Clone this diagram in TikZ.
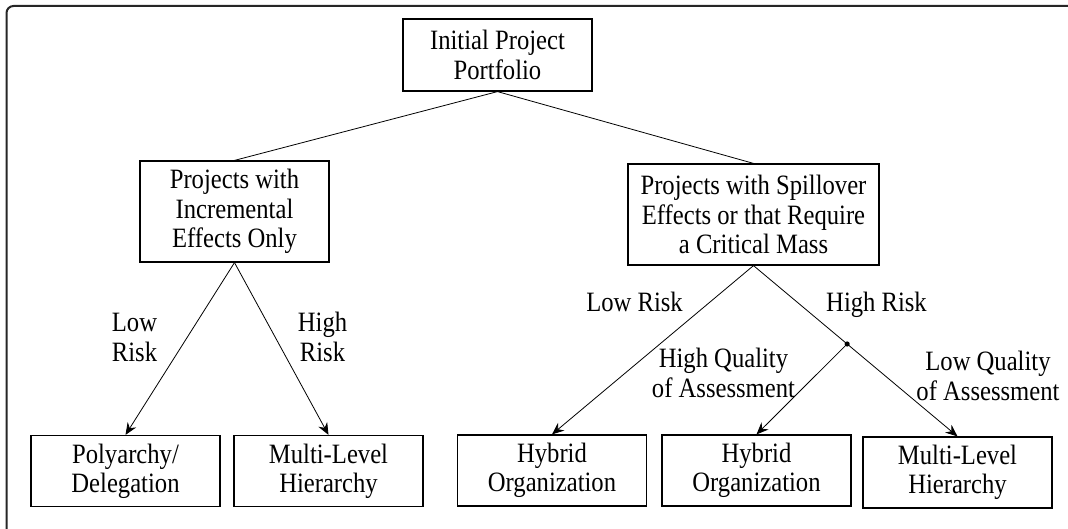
\documentclass[tikz,border=0pt]{standalone}
\usepackage{fontspec}
\setmainfont[FakeStretch=0.88]{Liberation Serif}
\usetikzlibrary{arrows.meta}
\begin{document}
\begin{tikzpicture}[x=1pt, y=-1pt,
    box/.style={draw, line width=1.2pt, align=center, minimum width=189pt,
      minimum height=71pt, inner sep=0pt, font=\fontsize{28}{29.3}\selectfont},
    lbl/.style={align=center, inner sep=0pt, font=\fontsize{28}{29.3}\selectfont},
    branch/.style={line width=0.8pt, -{Stealth[length=12pt, width=10pt, inset=4pt]}}]
    \useasboundingbox (0,0) rectangle (1068,529);
    % frame
    \draw[line width=2pt, color=black!85, rounded corners=7pt] (6.5,529) -- (6.5,6) -- (1068,6);
    % top of the tree
    \node[box, minimum height=72pt] (root) at (497.5,55) {Initial Project\\Portfolio};
    \node[box, minimum height=101pt] (incr) at (234.5,211.5) {Projects with\\Incremental\\Effects Only};
    \node[box, minimum width=251pt, minimum height=101pt] (spill) at (753.5,214.5)
      {Projects with Spillover\\Effects or that Require\\a Critical Mass};
    \draw[line width=0.8pt] (incr.north) -- (root.south) -- (spill.north);
    % outcomes
    \node[box] (poly)  at (125.5,471)   {Polyarchy/\\Delegation};
    \node[box] (mlhA)  at (328.5,471)   {Multi-Level\\Hierarchy};
    \node[box] (hybA)  at (552,470.5)   {Hybrid\\Organization};
    \node[box] (hybB)  at (756.5,470.5) {Hybrid\\Organization};
    \node[box] (mlhB)  at (957.5,472.5) {Multi-Level\\Hierarchy};
    % left branch
    \draw[branch] (incr.south) -- (poly.north);
    \draw[branch] (incr.south) -- (mlhA.north);
    \node[lbl, anchor=base] (lowA)  at (134.5,361) {Low\\Risk};
    \node[lbl, anchor=base] (highA) at (322.5,361) {High\\Risk};
    % right branch
    \draw[branch] (spill.south) -- (hybA.north);
    \draw[branch] (spill.south) -- coordinate[pos=0.459] (fork) (mlhB.north);
    \fill (fork) circle (2.6pt);
    \draw[branch] (fork) -- (hybB.north);
    \node[lbl, anchor=base east] (lowB)  at (683,312) {Low Risk};
    \node[lbl, anchor=base west] (highB) at (826,312) {High Risk};
    \node[lbl, anchor=base] (hiq) at (723.5,397) {High Quality\\of Assessment};
    \node[lbl, anchor=base] (loq) at (988,400) {Low Quality\\of Assessment};
\end{tikzpicture}
\end{document}
